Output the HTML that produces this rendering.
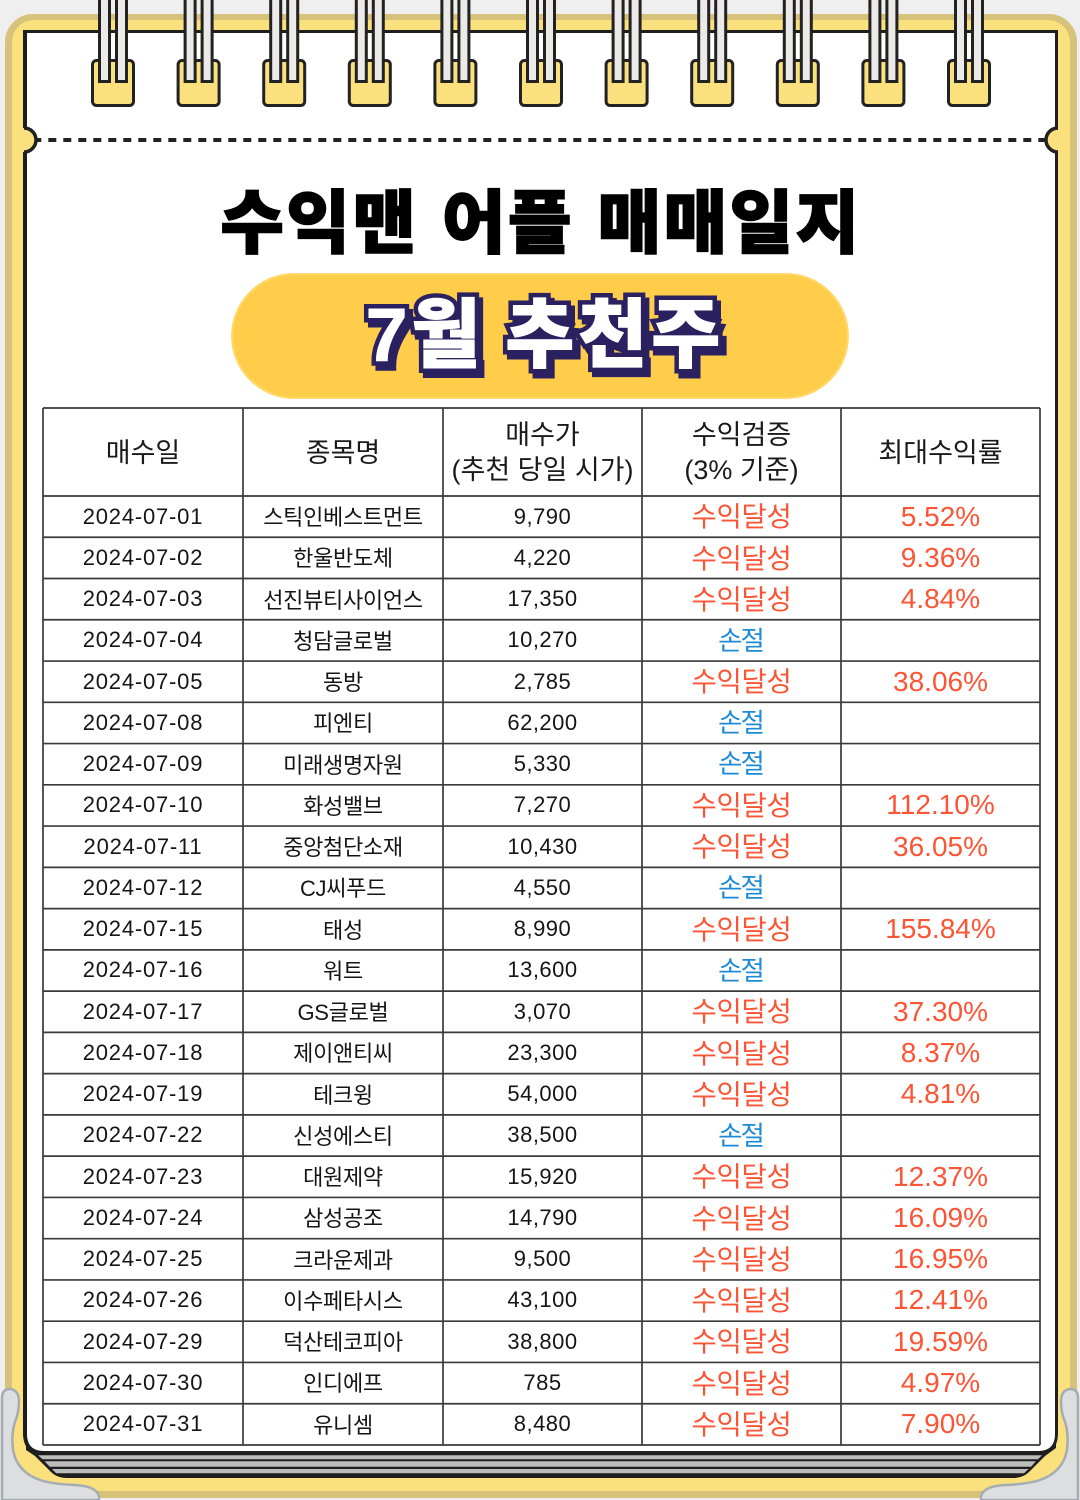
<!DOCTYPE html>
<html><head><meta charset="utf-8">
<style>
*{margin:0;padding:0;box-sizing:border-box}
html,body{width:1080px;height:1500px;background:#efefef;overflow:hidden}
body{position:relative;font-family:"Liberation Sans","Noto Sans CJK KR",sans-serif;color:#1a1a1a}
svg.bg{position:absolute;left:0;top:0}
.title{position:absolute;left:0;top:174px;width:1080px;height:100px;line-height:100px;text-align:center;font-size:69px;font-weight:900;color:#000;-webkit-text-stroke:1.6px #000;word-spacing:2px;letter-spacing:2.5px;white-space:nowrap;padding-left:2px}
.pt{position:absolute;left:243px;top:285px;width:600px;height:100px;line-height:100px;text-align:center;font-size:75px;font-weight:900;white-space:nowrap;letter-spacing:4px;word-spacing:-4px;padding-left:4px}
.pt.s{color:#2b2160;-webkit-text-stroke:10px #2b2160;transform:translate(4px,5px)}
.pt.o{color:#2b2160;-webkit-text-stroke:10px #2b2160}
.pt.f{color:#fff;-webkit-text-stroke:1px #fff}
.hdr{position:absolute;left:43px;top:408px;height:88px;display:flex}
.hdr div{display:flex;align-items:center;justify-content:center;text-align:center;font-size:27px;line-height:35px;color:#1a1a1a;padding-top:2px}
.rows{position:absolute;left:43px;top:496px}
.r{height:41.26px;display:flex}
.r div{display:flex;align-items:center;justify-content:center;line-height:1;white-space:nowrap}
.c1,.c2{width:200px}.c3,.c4,.c5{width:199px}
.r .c1{font-size:22px;letter-spacing:0.8px;color:#151515}
.r .c2{font-size:22px;color:#151515;padding-top:3px;letter-spacing:-0.3px}
.r .c3{font-size:22px;letter-spacing:0.5px;color:#151515}
.r .c4{font-size:27.5px;letter-spacing:-0.3px;padding-top:1px}
.r .c4.blue{font-size:26.5px;letter-spacing:-2px;padding-right:2px}
.r .c5{font-size:28px;color:#fb5535}
.red{color:#fb5535}
.blue{color:#1f8bd6}
</style></head><body>
<svg class="bg" width="1080" height="1500" viewBox="0 0 1080 1500" xmlns="http://www.w3.org/2000/svg">
  <rect x="5" y="14" width="1072" height="1484" rx="28" fill="#d6c27a"/>
  <rect x="12" y="20" width="1058" height="1471" rx="22" fill="#fae17e"/>
  <path d="M2,1500 L2,1398 Q2,1389 10,1389 Q19,1390 19,1402 Q19,1412 15,1422 Q11,1434 13,1450 Q17,1472 40,1480 Q52,1484 75,1485 Q96,1486 99,1496 L99,1500 Z" fill="#dddee0" stroke="#a5acb4" stroke-width="2.5"/>
  <g transform="translate(1080,0) scale(-1,1)">
  <path d="M2,1500 L2,1398 Q2,1389 10,1389 Q19,1390 19,1402 Q19,1412 15,1422 Q11,1434 13,1450 Q17,1472 40,1480 Q52,1484 75,1485 Q96,1486 99,1496 L99,1500 Z" fill="#dddee0" stroke="#a5acb4" stroke-width="2.5"/>
  </g>
  <path d="M26,1436 L26,1450 L35,1456 L51,1472 Q57,1478 67,1478 L1013,1478 Q1023,1478 1029,1472 L1045,1456 L1056,1448 L1056,1436 Z" fill="#1e1e1e"/>
  <polygon points="38,1455.3 42.5,1459.3 1038,1459.3 1042,1455.3" fill="#bcbcbc"/>
  <polygon points="44.5,1461.3 49.8,1466.7 1031,1466.7 1036,1461.3" fill="#bcbcbc"/>
  <polygon points="52,1469 56.2,1473.3 1024,1473.3 1028.5,1469" fill="#bcbcbc"/>
  <path d="M23,30 L1058,30 L1058,1433 Q1058,1455 1036,1455 L45,1455 Q23,1455 23,1433 Z" fill="#1e1e1e"/>
  <path d="M27,33 L1055,33 L1055,1434 Q1055,1451 1038,1451 L44,1451 Q27,1451 27,1434 Z" fill="#ffffff"/>
  <line x1="33.3" y1="140" x2="1046" y2="140" stroke="#222" stroke-width="4" stroke-dasharray="8 7"/>
  <circle cx="24" cy="140" r="12" fill="#fae17e"/>
  <path d="M24,128 A12,12 0 0 1 24,152" fill="none" stroke="#222" stroke-width="3.5"/>
  <circle cx="1058" cy="140" r="12" fill="#fae17e"/>
  <path d="M1058,128 A12,12 0 0 0 1058,152" fill="none" stroke="#222" stroke-width="3.5"/>
  <g id="ring">
    <rect x="92.5" y="60.5" width="41" height="45" rx="4" fill="#fae17e" stroke="#222" stroke-width="3"/>
    <rect x="99.5" y="-5" width="10" height="86.5" fill="#ece9e9" stroke="#222" stroke-width="3"/>
    <rect x="116.5" y="-5" width="10" height="86.5" fill="#ece9e9" stroke="#222" stroke-width="3"/>
  </g>
  <use href="#ring" x="85.6"/>
  <use href="#ring" x="171.2"/>
  <use href="#ring" x="256.8"/>
  <use href="#ring" x="342.4"/>
  <use href="#ring" x="428"/>
  <use href="#ring" x="513.6"/>
  <use href="#ring" x="599.2"/>
  <use href="#ring" x="684.8"/>
  <use href="#ring" x="770.4"/>
  <use href="#ring" x="856"/>
  <rect x="232" y="274" width="616" height="124" rx="62" fill="#ffcd4a" stroke="#ffd96c" stroke-width="2"/>
  <g stroke="#3a3a3a" stroke-width="1.7" fill="none">
    <path d="M43,408V1445 M243,408V1445 M443,408V1445 M642,408V1445 M841,408V1445 M1040,408V1445"/>
    <path d="M43,408H1040 M43,496H1040 M43,537.26H1040 M43,578.52H1040 M43,619.78H1040 M43,661.04H1040 M43,702.3H1040 M43,743.56H1040 M43,784.82H1040 M43,826.08H1040 M43,867.34H1040 M43,908.6H1040 M43,949.86H1040 M43,991.12H1040 M43,1032.38H1040 M43,1073.64H1040 M43,1114.9H1040 M43,1156.16H1040 M43,1197.42H1040 M43,1238.68H1040 M43,1279.94H1040 M43,1321.2H1040 M43,1362.46H1040 M43,1403.72H1040 M43,1444.98H1040"/>
  </g>
</svg>

<div class="title">수익맨 어플 매매일지</div>
<div class="pt s">7월 추천주</div>
<div class="pt o">7월 추천주</div>
<div class="pt f">7월 추천주</div>

<div class="hdr">
  <div class="c1">매수일</div>
  <div class="c2">종목명</div>
  <div class="c3">매수가<br>(추천 당일 시가)</div>
  <div class="c4">수익검증<br>(3% 기준)</div>
  <div class="c5">최대수익률</div>
</div>

<div class="rows">
  <div class="r"><div class="c1">2024-07-01</div><div class="c2">스틱인베스트먼트</div><div class="c3">9,790</div><div class="c4 red">수익달성</div><div class="c5">5.52%</div></div>
  <div class="r"><div class="c1">2024-07-02</div><div class="c2">한울반도체</div><div class="c3">4,220</div><div class="c4 red">수익달성</div><div class="c5">9.36%</div></div>
  <div class="r"><div class="c1">2024-07-03</div><div class="c2">선진뷰티사이언스</div><div class="c3">17,350</div><div class="c4 red">수익달성</div><div class="c5">4.84%</div></div>
  <div class="r"><div class="c1">2024-07-04</div><div class="c2">청담글로벌</div><div class="c3">10,270</div><div class="c4 blue">손절</div><div class="c5"></div></div>
  <div class="r"><div class="c1">2024-07-05</div><div class="c2">동방</div><div class="c3">2,785</div><div class="c4 red">수익달성</div><div class="c5">38.06%</div></div>
  <div class="r"><div class="c1">2024-07-08</div><div class="c2">피엔티</div><div class="c3">62,200</div><div class="c4 blue">손절</div><div class="c5"></div></div>
  <div class="r"><div class="c1">2024-07-09</div><div class="c2">미래생명자원</div><div class="c3">5,330</div><div class="c4 blue">손절</div><div class="c5"></div></div>
  <div class="r"><div class="c1">2024-07-10</div><div class="c2">화성밸브</div><div class="c3">7,270</div><div class="c4 red">수익달성</div><div class="c5">112.10%</div></div>
  <div class="r"><div class="c1">2024-07-11</div><div class="c2">중앙첨단소재</div><div class="c3">10,430</div><div class="c4 red">수익달성</div><div class="c5">36.05%</div></div>
  <div class="r"><div class="c1">2024-07-12</div><div class="c2">CJ씨푸드</div><div class="c3">4,550</div><div class="c4 blue">손절</div><div class="c5"></div></div>
  <div class="r"><div class="c1">2024-07-15</div><div class="c2">태성</div><div class="c3">8,990</div><div class="c4 red">수익달성</div><div class="c5">155.84%</div></div>
  <div class="r"><div class="c1">2024-07-16</div><div class="c2">워트</div><div class="c3">13,600</div><div class="c4 blue">손절</div><div class="c5"></div></div>
  <div class="r"><div class="c1">2024-07-17</div><div class="c2">GS글로벌</div><div class="c3">3,070</div><div class="c4 red">수익달성</div><div class="c5">37.30%</div></div>
  <div class="r"><div class="c1">2024-07-18</div><div class="c2">제이앤티씨</div><div class="c3">23,300</div><div class="c4 red">수익달성</div><div class="c5">8.37%</div></div>
  <div class="r"><div class="c1">2024-07-19</div><div class="c2">테크윙</div><div class="c3">54,000</div><div class="c4 red">수익달성</div><div class="c5">4.81%</div></div>
  <div class="r"><div class="c1">2024-07-22</div><div class="c2">신성에스티</div><div class="c3">38,500</div><div class="c4 blue">손절</div><div class="c5"></div></div>
  <div class="r"><div class="c1">2024-07-23</div><div class="c2">대원제약</div><div class="c3">15,920</div><div class="c4 red">수익달성</div><div class="c5">12.37%</div></div>
  <div class="r"><div class="c1">2024-07-24</div><div class="c2">삼성공조</div><div class="c3">14,790</div><div class="c4 red">수익달성</div><div class="c5">16.09%</div></div>
  <div class="r"><div class="c1">2024-07-25</div><div class="c2">크라운제과</div><div class="c3">9,500</div><div class="c4 red">수익달성</div><div class="c5">16.95%</div></div>
  <div class="r"><div class="c1">2024-07-26</div><div class="c2">이수페타시스</div><div class="c3">43,100</div><div class="c4 red">수익달성</div><div class="c5">12.41%</div></div>
  <div class="r"><div class="c1">2024-07-29</div><div class="c2">덕산테코피아</div><div class="c3">38,800</div><div class="c4 red">수익달성</div><div class="c5">19.59%</div></div>
  <div class="r"><div class="c1">2024-07-30</div><div class="c2">인디에프</div><div class="c3">785</div><div class="c4 red">수익달성</div><div class="c5">4.97%</div></div>
  <div class="r"><div class="c1">2024-07-31</div><div class="c2">유니셈</div><div class="c3">8,480</div><div class="c4 red">수익달성</div><div class="c5">7.90%</div></div>
</div>
</body></html>
